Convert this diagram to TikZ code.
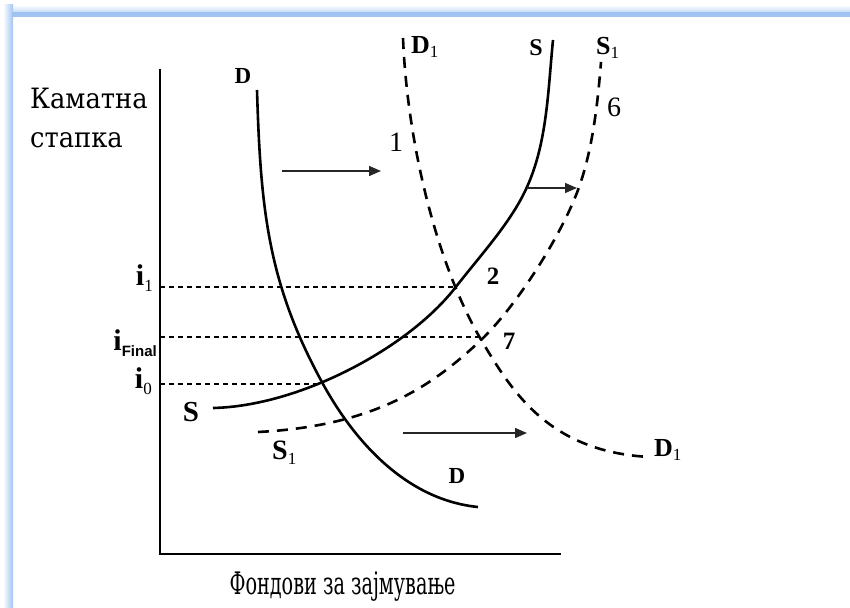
\documentclass[tikz,border=0pt]{standalone}
\usepackage{fontspec}
\setmainfont{Liberation Serif}
\newfontfamily\lserif{Liberation Serif}
\newfontfamily\dserif{DejaVu Serif}
\newfontfamily\sansf{Liberation Sans}
\usetikzlibrary{arrows.meta}
\definecolor{framebl}{RGB}{160,196,242}
\newcommand\lsub[1]{\raisebox{-0.4ex}{\fontsize{17}{18}\selectfont\mdseries #1}}
\begin{document}
\begin{tikzpicture}[x=1pt,y=-1pt,
  curve/.style={line width=2.6pt},
  dcurve/.style={line width=2.6pt, dash pattern=on 11pt off 8pt},
  guide/.style={line width=1.1pt, dash pattern=on 5pt off 4pt},
  axis/.style={line width=1.4pt},
  shiftarrow/.style={line width=1.4pt, draw=black!85, -{Triangle[length=12pt,width=10pt]}},
  lbl/.style={inner sep=0pt, font=\lserif\fontsize{23}{25}\selectfont\bfseries},
  numlbl/.style={inner sep=0pt, font=\lserif\fontsize{28}{30}\selectfont},
  axlbl/.style={inner sep=0pt, font=\dserif\fontsize{28}{30}\selectfont}
]
\useasboundingbox (0,0) rectangle (850,607);
% frame shading
\shade[top color=white, bottom color=framebl] (4,5) rectangle (850,17);
\shade[left color=white, right color=framebl] (3,5) rectangle (13,607);
\fill[framebl] (12,12) rectangle (850,17);
% axes
\coordinate (O) at (160,554);
\coordinate (ytop) at (160,69);
\coordinate (xend) at (561,554);
\draw[axis] (ytop) -- (O) -- (xend);
% axis labels
\node[axlbl, anchor=base west, xscale=0.92] (ylab1) at (30,108) {Каматна};
\node[axlbl, anchor=base west, xscale=0.92] (ylab2) at (30,147) {стапка};
\node[axlbl, anchor=base, font=\dserif\fontsize{31}{33}\selectfont, xscale=0.62] (xlab) at (342.5,594) {Фондови за зајмување};
% guide lines
\coordinate (g1a) at (160,287); \coordinate (g1b) at (456,287);
\coordinate (gfa) at (160,337); \coordinate (gfb) at (480,337);
\coordinate (g0a) at (160,384); \coordinate (g0b) at (323,384);
\draw[guide] (g1a) -- (g1b);
\draw[guide] (gfa) -- (gfb);
\draw[guide] (g0a) -- (g0b);
% key points
\coordinate (Dtp) at (257,90);  \coordinate (Dmid) at (323,384); \coordinate (Dend) at (478,507);
\coordinate (Sst) at (213,408); \coordinate (Sm1) at (455,288); \coordinate (Sm2) at (527,187); \coordinate (Stp) at (553,40);
\coordinate (T1st) at (258,432); \coordinate (T1m1) at (480,341); \coordinate (T1m2) at (578,190); \coordinate (T1tp) at (601,62);
\coordinate (E1tp) at (403,38); \coordinate (E1m) at (483,343); \coordinate (E1end) at (650,457);
% D curve
\draw[curve] (Dtp) .. controls (260.6,210) and (268,284) .. (Dmid)
                   .. controls (356,444) and (408,500) .. (Dend);
% S curve
\draw[curve] (Sst) .. controls (300,406) and (408.2,348) .. (Sm1)
                   .. controls (482.3,253) and (511.3,222) .. (Sm2)
                   .. controls (547.3,142) and (548,90) .. (Stp);
% S1 dashed
\draw[dcurve] (T1st) .. controls (375,426) and (432,386) .. (T1m1)
                     .. controls (517,306) and (561.4,235) .. (T1m2)
                     .. controls (592.8,150) and (597.8,102) .. (T1tp);
% D1 dashed
\draw[dcurve] (E1tp) .. controls (407,138) and (435,263) .. (E1m)
                     .. controls (513,393) and (550,452) .. (E1end);
% shift arrows
\coordinate (a1s) at (282,171); \coordinate (a1e) at (381,171);
\coordinate (a2s) at (527,188); \coordinate (a2e) at (577,188);
\coordinate (a3s) at (403,433); \coordinate (a3e) at (527,433);
\draw[shiftarrow] (a1s) -- (a1e);
\draw[shiftarrow] (a2s) -- (a2e);
\draw[shiftarrow] (a3s) -- (a3e);
% labels
\node[lbl] (Dtop) at (243,76) {D};
\node[lbl] (Dbot) at (457,476) {D};
\node[lbl, anchor=west, font=\lserif\fontsize{26}{28}\selectfont\bfseries] (D1top) at (411,47) {D\lsub{1}};
\node[lbl, anchor=west, font=\lserif\fontsize{26}{28}\selectfont\bfseries] (D1bot) at (654,450) {D\lsub{1}};
\node[lbl, font=\lserif\fontsize{24}{26}\selectfont\bfseries] (Stop) at (536,48) {S};
\node[lbl, anchor=west, font=\lserif\fontsize{26}{28}\selectfont\bfseries] (S1top) at (596,48) {S\lsub{1}};
\node[lbl, font=\lserif\fontsize{29}{31}\selectfont\bfseries] (Sbot) at (191,412) {S};
\node[lbl, anchor=west, font=\lserif\fontsize{28}{30}\selectfont\bfseries] (S1bot) at (272,453) {S\lsub{1}};
\node[lbl, anchor=east, font=\lserif\fontsize{30}{32}\selectfont\bfseries] (i1) at (153,278) {i\lsub{1}};
\node[lbl, anchor=east, font=\lserif\fontsize{30}{32}\selectfont\bfseries] (iF) at (157,343) {i\raisebox{-0.45ex}{\sansf\fontsize{15}{16}\selectfont Final}};
\node[lbl, anchor=east, font=\lserif\fontsize{30}{32}\selectfont\bfseries] (i0) at (152,381) {i\lsub{0}};
\node[numlbl] (n1) at (396,142) {1};
\node[numlbl, font=\lserif\fontsize{25}{27}\selectfont\bfseries] (n2) at (493,276) {2};
\node[numlbl] (n6) at (614,107) {6};
\node[numlbl, font=\lserif\fontsize{25}{27}\selectfont\bfseries] (n7) at (509,341) {7};
\end{tikzpicture}
\end{document}
